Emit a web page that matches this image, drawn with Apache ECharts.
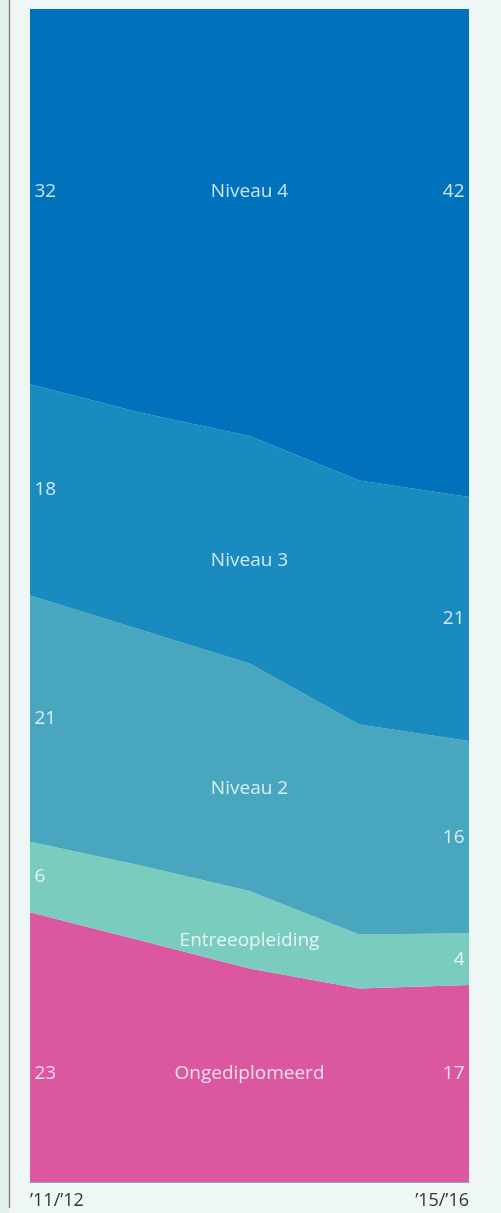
<!DOCTYPE html>
<html>
<head>
<meta charset="utf-8">
<script src="https://cdn.jsdelivr.net/npm/echarts@6/dist/echarts.min.js"></script>
<style>
html,body{margin:0;padding:0;background:#eff7f6;}
#c{width:501px;height:1213px;}
</style>
</head>
<body>
<div id="c"></div>
<script>
// Data (bottom to top of stack), percent of total
var categories = ['\u201911/\u201912', '\u201912/\u201913', '\u201913/\u201914', '\u201914/\u201915', '\u201915/\u201916'];
var seriesNames = ['Ongediplomeerd', 'Entreeopleiding', 'Niveau 2', 'Niveau 3', 'Niveau 4'];
var ongediplomeerd = [23, 20.6, 18.2, 16.5, 16.8];
var entreeopleiding = [6, 6.4, 6.6, 4.6, 4.4];
var niveau2 = [21, 20.1, 19.4, 17.9, 16.4];
var niveau3 = [18, 18.5, 19.4, 20.8, 20.8];
var niveau4 = [32, 34.4, 36.4, 40.2, 41.6];
var colors = ['#db57a0', '#7accbf', '#48a7bf', '#1a8bbf', '#0071bb'];

var values = [ongediplomeerd, entreeopleiding, niveau2, niveau3, niveau4];
var n = categories.length;
var last = n - 1, mid = Math.floor(n / 2);

// cumulative bounds
var lower = [], upper = [];
var acc = categories.map(function(){return 0;});
values.forEach(function(v, s){
  lower[s] = acc.slice();
  acc = acc.map(function(a, i){return a + v[i];});
  upper[s] = acc.slice();
});
function midAt(s, i){ return (lower[s][i] + upper[s][i]) / 2; }

var series = [];
values.forEach(function(v, s){
  series.push({
    name: seriesNames[s], type: 'line', stack: 'total', data: v,
    symbol: 'none', lineStyle: {width: 0}, areaStyle: {color: colors[s], opacity: 1},
    itemStyle: {color: colors[s]}, silent: true, z: 1
  });
});

// label positions derived from bands
var labelPts = [];
values.forEach(function(v, s){
  var yl, yc, yr, dy = 0, dyc = 0;
  if (s === values.length - 1) {
    yl = yc = yr = (100 + lower[s][0]) / 2; dy = -5; dyc = -5;
  } else if (s === 0) {
    var sum = 0; for (var i = 0; i < n; i++) sum += midAt(s, i);
    yl = yc = yr = sum / n; dy = 3; dyc = 3;
  } else {
    yl = midAt(s, 0); yc = midAt(s, mid); yr = midAt(s, last); dyc = 11;
  }
  labelPts.push({value: [0, yl], label: {formatter: String(Math.round(v[0])), position: 'right', distance: 4, offset: [0, dy]}});
  labelPts.push({value: [mid, yc], label: {formatter: seriesNames[s], position: 'inside', offset: [0, dyc]}});
  labelPts.push({value: [last, yr], label: {formatter: String(Math.round(v[last])), position: 'left', distance: 4, offset: [0, dy]}});
});
series.push({
  type: 'scatter', data: labelPts, symbolSize: 1, itemStyle: {color: 'rgba(0,0,0,0)'},
  silent: true, z: 5,
  label: {show: true, color: '#ffffff', fontFamily: 'Open Sans', fontSize: 19}
});

var chart = echarts.init(document.getElementById('c'));
chart.setOption({
  backgroundColor: '#eff7f6',
  animation: false,
  grid: {left: 30, right: 32, top: 9, bottom: 31},
  xAxis: {
    type: 'category', data: categories, boundaryGap: false,
    axisLine: {show: true, lineStyle: {color: '#8c9ed4', width: 1}},
    axisTick: {show: false},
    axisLabel: {
      interval: function(i){ return i === 0 || i === last; },
      color: '#333333', fontFamily: 'Open Sans', fontSize: 18, margin: 10,
      alignMinLabel: 'left', alignMaxLabel: 'right'
    },
    splitLine: {show: false}
  },
  yAxis: {type: 'value', min: 0, max: 100, show: false},
  graphic: [
    {type: 'rect', shape: {x: 0, y: 0, width: 9, height: 1213}, style: {fill: '#e2f1ee'}, z: 0},
    {type: 'line', shape: {x1: 9.5, y1: 0, x2: 9.5, y2: 1208}, style: {stroke: '#8a8a8a', lineWidth: 1.5}, z: 0}
  ],
  series: series
});
</script>
</body>
</html>
